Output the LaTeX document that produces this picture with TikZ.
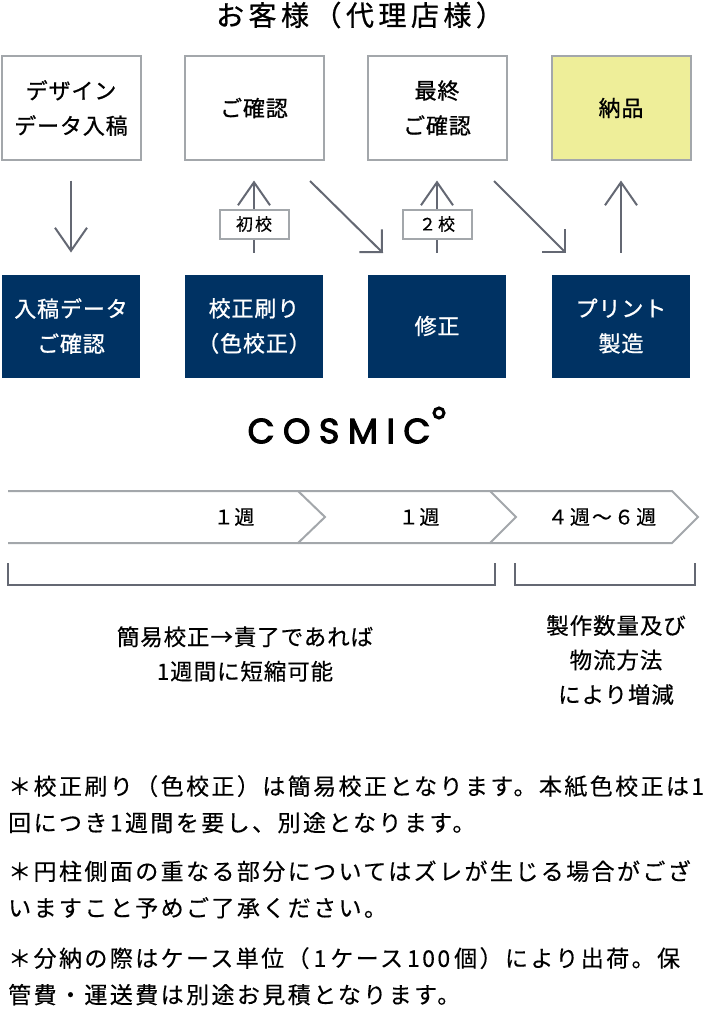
\documentclass[tikz,border=0pt]{standalone}
\usepackage{fontspec}
\usetikzlibrary{arrows.meta}
\newfontfamily\jpfont[LetterSpace=4,FakeBold=0.4]{Noto Sans CJK JP}
\newfontfamily\jpbold[LetterSpace=4,FakeBold=0.9]{Noto Sans CJK JP}
\newfontfamily\jpnote[LetterSpace=10.5,FakeBold=0.3]{Noto Sans CJK JP}
\newfontfamily\jpwide[LetterSpace=12,FakeBold=0.5]{Noto Sans CJK JP}
\newfontfamily\jphead[LetterSpace=16,FakeBold=0.8]{Noto Sans CJK JP}
\newfontfamily\logofont[LetterSpace=24,FakeBold=3]{Poppins}
\definecolor{boxgray}{HTML}{A3A7AB}
\definecolor{arrowgray}{HTML}{646873}
\definecolor{navy}{HTML}{003263}
\definecolor{paleyellow}{HTML}{EEEE99}
\tikzset{
	client/.style={shape=rectangle,draw=boxgray,line width=2pt,minimum width=139pt,minimum height=103pt,inner sep=0pt,outer sep=0pt,align=center,font=\jpbold\fontsize{22}{35}\selectfont},
	maker/.style={shape=rectangle,fill=navy,text=white,minimum width=138pt,minimum height=103pt,inner sep=0pt,outer sep=0pt,align=center,font=\jpbold\fontsize{22}{35}\selectfont},
	proof/.style={shape=rectangle,draw=boxgray,fill=white,line width=2pt,minimum width=69pt,minimum height=29pt,inner sep=0pt,font=\jpwide\fontsize{17}{20}\selectfont},
	flow/.style={draw=arrowgray,line width=2pt,-{Straight Barb[length=23pt,width=32pt,line width=2pt]}},
	flowdiag/.style={draw=arrowgray,line width=2pt,-{Straight Barb[length=16pt,width=32pt,line width=2pt]}},
	chevron/.style={draw=boxgray,line width=2pt},
	bracket/.style={draw=arrowgray,line width=2pt},
	week/.style={inner sep=0pt,font=\jpfont\fontsize{20}{24}\selectfont},
	remark/.style={inner sep=0pt,align=center,font=\jpfont\fontsize{22.5}{34.5}\selectfont},
	note/.style={anchor=north west,inner sep=0pt,align=left,font=\jpnote\fontsize{23}{36.5}\selectfont}
}
\begin{document}
\begin{tikzpicture}[x=1pt,y=-1pt]
	\useasboundingbox (0,0) rectangle (707,1033);

	\node[inner sep=0pt,font=\jphead\fontsize{28}{32}\selectfont] (customer) at (360,15) {お客様（代理店様）};

	\node[client] (design) at (71,108)  {デザイン\\データ入稿};
	\node[client] (check)  at (254,108) {ご確認};
	\node[client] (final)  at (437,108) {最終\\ご確認};
	\node[client,fill=paleyellow] (deliver) at (621,108) {納品};

	\node[maker] (intake) at (71,326)  {入稿データ\\ご確認};
	\node[maker] (proofing) at (254,326) {校正刷り\\（色校正）};
	\node[maker] (fix)    at (437,326) {修正};
	\node[maker] (print)  at (621,326) {プリント\\製造};

	\draw[flow,shorten <=21pt,shorten >=22pt] (design) -- (intake);
	\draw[flow,shorten <=22pt,shorten >=21pt] (proofing) -- (check);
	\draw[flow,shorten <=22pt,shorten >=21pt] (fix) -- (final);
	\draw[flow,shorten <=22pt,shorten >=21pt] (print) -- (deliver);

	\coordinate (d1a) at (310,181);
	\coordinate (d1b) at (383,253);
	\coordinate (d2a) at (494,181);
	\coordinate (d2b) at (566,253);
	\draw[flowdiag] (d1a) -- (d1b);
	\draw[flowdiag] (d2a) -- (d2b);

	\node[proof] (first)  at (254,224) {初校};
	\node[proof] (second) at (437,224) {２校};

	\node[inner sep=0pt,font=\logofont\fontsize{35}{38}\selectfont] (logo) at (339,431) {COSMIC};
	\node[shape=circle,draw=black,line width=3pt,minimum size=10pt,inner sep=0pt] (logoring) at (439,413) {};

	\draw[chevron] (8,491) -- (298,491) -- (325,517) -- (298,543) -- (8,543);
	\draw[chevron] (298,491) -- (490,491) -- (516,517) -- (490,543) -- (298,543);
	\draw[chevron] (490,491) -- (672,491) -- (698,517) -- (672,543) -- (490,543);

	\node[week] (week1) at (234,517) {１週};
	\node[week] (week2) at (419,517) {１週};
	\node[week,font=\jpnote\fontsize{20}{24}\selectfont] (week3) at (602,517) {４週～６週};

	\draw[bracket] (8,563) -- (8,585) -- (495,585) -- (495,563);
	\draw[bracket] (515,563) -- (515,585) -- (695,585) -- (695,563);

	\node[remark] (short) at (245,654) {簡易校正→責了であれば\\1週間に短縮可能};
	\node[remark] (extra) at (616,660) {製作数量及び\\物流方法\\により増減};

	\node[note] (note1) at (8,775) {＊校正刷り（色校正）は簡易校正となります。本紙色校正は1\\回につき1週間を要し、別途となります。};
	\node[note] (note2) at (8,860) {＊円柱側面の重なる部分についてはズレが生じる場合がござ\\いますこと予めご了承ください。};
	\node[note] (note3) at (8,947) {＊分納の際はケース単位（\kern4pt 1\kern4pt ケース\kern4pt 100\kern4pt 個）により出荷。保\\管費・運送費は別途お見積となります。};
\end{tikzpicture}
\end{document}
